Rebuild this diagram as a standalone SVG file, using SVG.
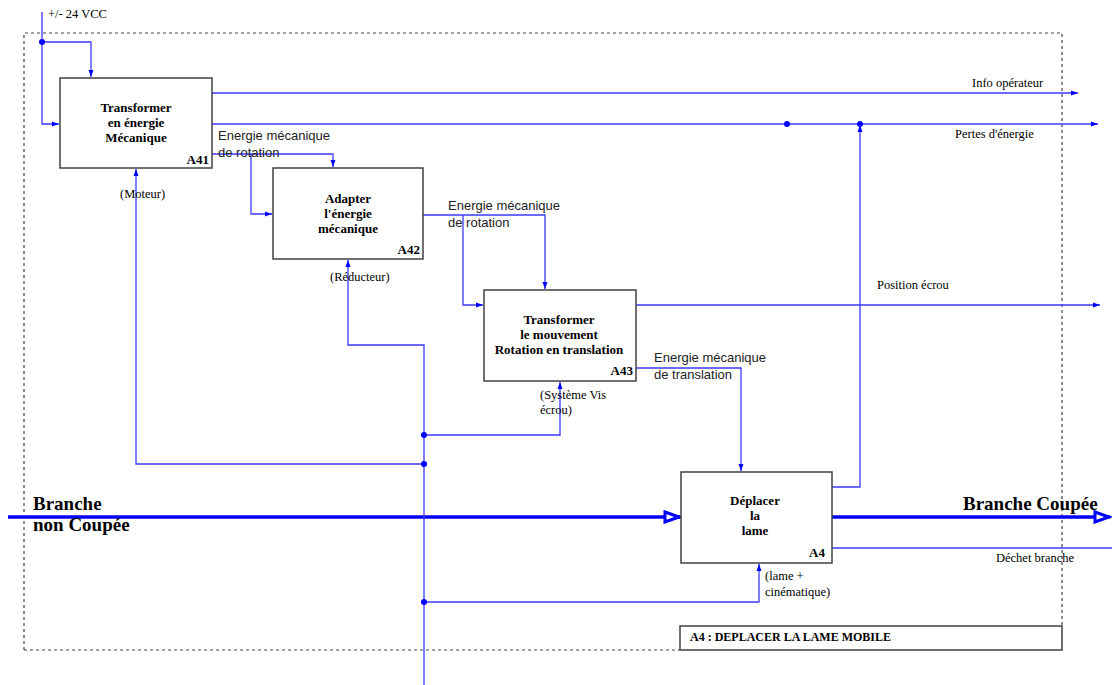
<svg xmlns="http://www.w3.org/2000/svg" width="1112" height="685" viewBox="0 0 1112 685">
<style>
.box{fill:#fff;stroke:#404040;stroke-width:1.5}
.ln{fill:none;stroke:#3a3aff;stroke-width:1.3}
.thick{fill:none;stroke:#0000ff;stroke-width:3.5}
.bt{font-family:"Liberation Serif",serif;font-weight:bold;font-size:13px;fill:#000;text-anchor:middle}
.id{font-family:"Liberation Serif",serif;font-weight:bold;font-size:13px;fill:#000;text-anchor:end}
.lbl{font-family:"Liberation Serif",serif;font-size:12.5px;fill:#000}
.sans{font-family:"Liberation Sans",sans-serif;font-size:13px;fill:#222}
.big{font-family:"Liberation Serif",serif;font-weight:bold;font-size:19px;fill:#000}
.frame{fill:none;stroke:#444;stroke-width:1.2;stroke-dasharray:3,3}
</style>
<defs>
<marker id="ar" markerWidth="8" markerHeight="8" refX="7" refY="4" orient="auto" markerUnits="userSpaceOnUse">
<path d="M0,1.5 L7,4 L0,6.5 Z" fill="#0000ff"/>
</marker>
<marker id="open" markerWidth="20" markerHeight="14" refX="17" refY="7" orient="auto" markerUnits="userSpaceOnUse">
<path d="M2,2 L16,7 L2,12 Z" fill="#fff" stroke="#0000ff" stroke-width="3"/>
</marker>
</defs>

<g id="frame">
<path class="frame" d="M24,650 L24,33 L1062,33 L1062,626"/>
<path class="frame" d="M24,650 L680,650"/>
</g>

<g id="connectors">
<path class="ln" d="M42,12 L42,124 L59,124" marker-end="url(#ar)"/>
<path class="ln" d="M42,42 L91,42 L91,77" marker-end="url(#ar)"/>
<circle cx="42" cy="42" r="3" fill="#0000ff"/>
<path class="ln" d="M212,93 L1078,93" marker-end="url(#ar)"/>
<path class="ln" d="M212,124 L1098,124" marker-end="url(#ar)"/>
<circle cx="787" cy="124" r="3" fill="#0000ff"/>
<circle cx="860" cy="124" r="3" fill="#0000ff"/>
<path class="ln" d="M212,154 L333,154 L333,167" marker-end="url(#ar)"/>
<path class="ln" d="M251,154 L251,214 L272,214" marker-end="url(#ar)"/>
<path class="ln" d="M423,215 L545,215 L545,289" marker-end="url(#ar)"/>
<path class="ln" d="M463,215 L463,305 L483,305" marker-end="url(#ar)"/>
<path class="ln" d="M636,305 L1100,305" marker-end="url(#ar)"/>
<path class="ln" d="M636,368 L741,368 L741,471" marker-end="url(#ar)"/>
<path class="ln" d="M832,487 L860,487 L860,125" marker-end="url(#ar)"/>
<path class="ln" d="M832,548 L1112,548"/>
<path class="thick" d="M832,517 L1110,517" marker-end="url(#open)"/>
<path class="thick" d="M8,517 L680,517" marker-end="url(#open)"/>
<path class="ln" d="M424,685 L424,345 L348,345 L348,260" marker-end="url(#ar)"/>
<path class="ln" d="M424,435 L560,435 L560,382" marker-end="url(#ar)"/>
<path class="ln" d="M424,464 L136,464 L136,169" marker-end="url(#ar)"/>
<path class="ln" d="M424,602 L759,602 L759,564" marker-end="url(#ar)"/>
<circle cx="424" cy="435" r="3" fill="#0000ff"/>
<circle cx="424" cy="464" r="3" fill="#0000ff"/>
<circle cx="424" cy="602" r="3" fill="#0000ff"/>
</g>

<g id="labels">
<text class="lbl" x="48" y="18">+/- 24 VCC</text>
<text class="lbl" x="972" y="87">Info opérateur</text>
<text class="lbl" x="955" y="138">Pertes d'énergie</text>
<text class="sans" x="218" y="140">Energie mécanique</text>
<text class="sans" x="218" y="157">de rotation</text>
<text class="sans" x="448" y="210">Energie mécanique</text>
<text class="sans" x="448" y="227">de rotation</text>
<text class="lbl" x="877" y="289">Position écrou</text>
<text class="sans" x="654" y="362">Energie mécanique</text>
<text class="sans" x="654" y="379">de translation</text>
<text class="lbl" x="120" y="198">(Moteur)</text>
<text class="lbl" x="330" y="281">(Réducteur)</text>
<text class="lbl" x="540" y="399">(Système Vis</text>
<text class="lbl" x="540" y="414">écrou)</text>
<text class="lbl" x="765" y="580">(lame +</text>
<text class="lbl" x="765" y="596">cinématique)</text>
<text class="lbl" x="996" y="562">Déchet branche</text>
<text class="big" x="33" y="510">Branche</text>
<text class="big" x="33" y="531">non Coupée</text>
<text class="big" x="963" y="510">Branche Coupée</text>
</g>

<g id="A41">
<rect class="box" x="60" y="78" width="152" height="90"/>
<text class="bt" x="136" y="112">Transformer</text>
<text class="bt" x="136" y="127">en énergie</text>
<text class="bt" x="136" y="142">Mécanique</text>
<text class="id" x="209" y="164">A41</text>
</g>

<g id="A42">
<rect class="box" x="273" y="168" width="150" height="91"/>
<text class="bt" x="348" y="203">Adapter</text>
<text class="bt" x="348" y="218">l'énergie</text>
<text class="bt" x="348" y="233">mécanique</text>
<text class="id" x="420" y="254">A42</text>
</g>

<g id="A43">
<rect class="box" x="484" y="290" width="152" height="91"/>
<text class="bt" x="559" y="324">Transformer</text>
<text class="bt" x="559" y="339">le mouvement</text>
<text class="bt" x="559" y="354">Rotation en translation</text>
<text class="id" x="633" y="375">A43</text>
</g>

<g id="A4">
<rect class="box" x="681" y="472" width="151" height="91"/>
<text class="bt" x="755" y="505">Déplacer</text>
<text class="bt" x="755" y="520">la</text>
<text class="bt" x="755" y="535">lame</text>
<text class="id" x="825" y="557">A4</text>
</g>

<g id="title">
<rect class="box" x="680" y="626" width="382" height="24"/>
<text class="lbl" x="690" y="641" style="font-weight:bold;font-size:12px">A4 : DEPLACER LA LAME MOBILE</text>
</g>
</svg>
